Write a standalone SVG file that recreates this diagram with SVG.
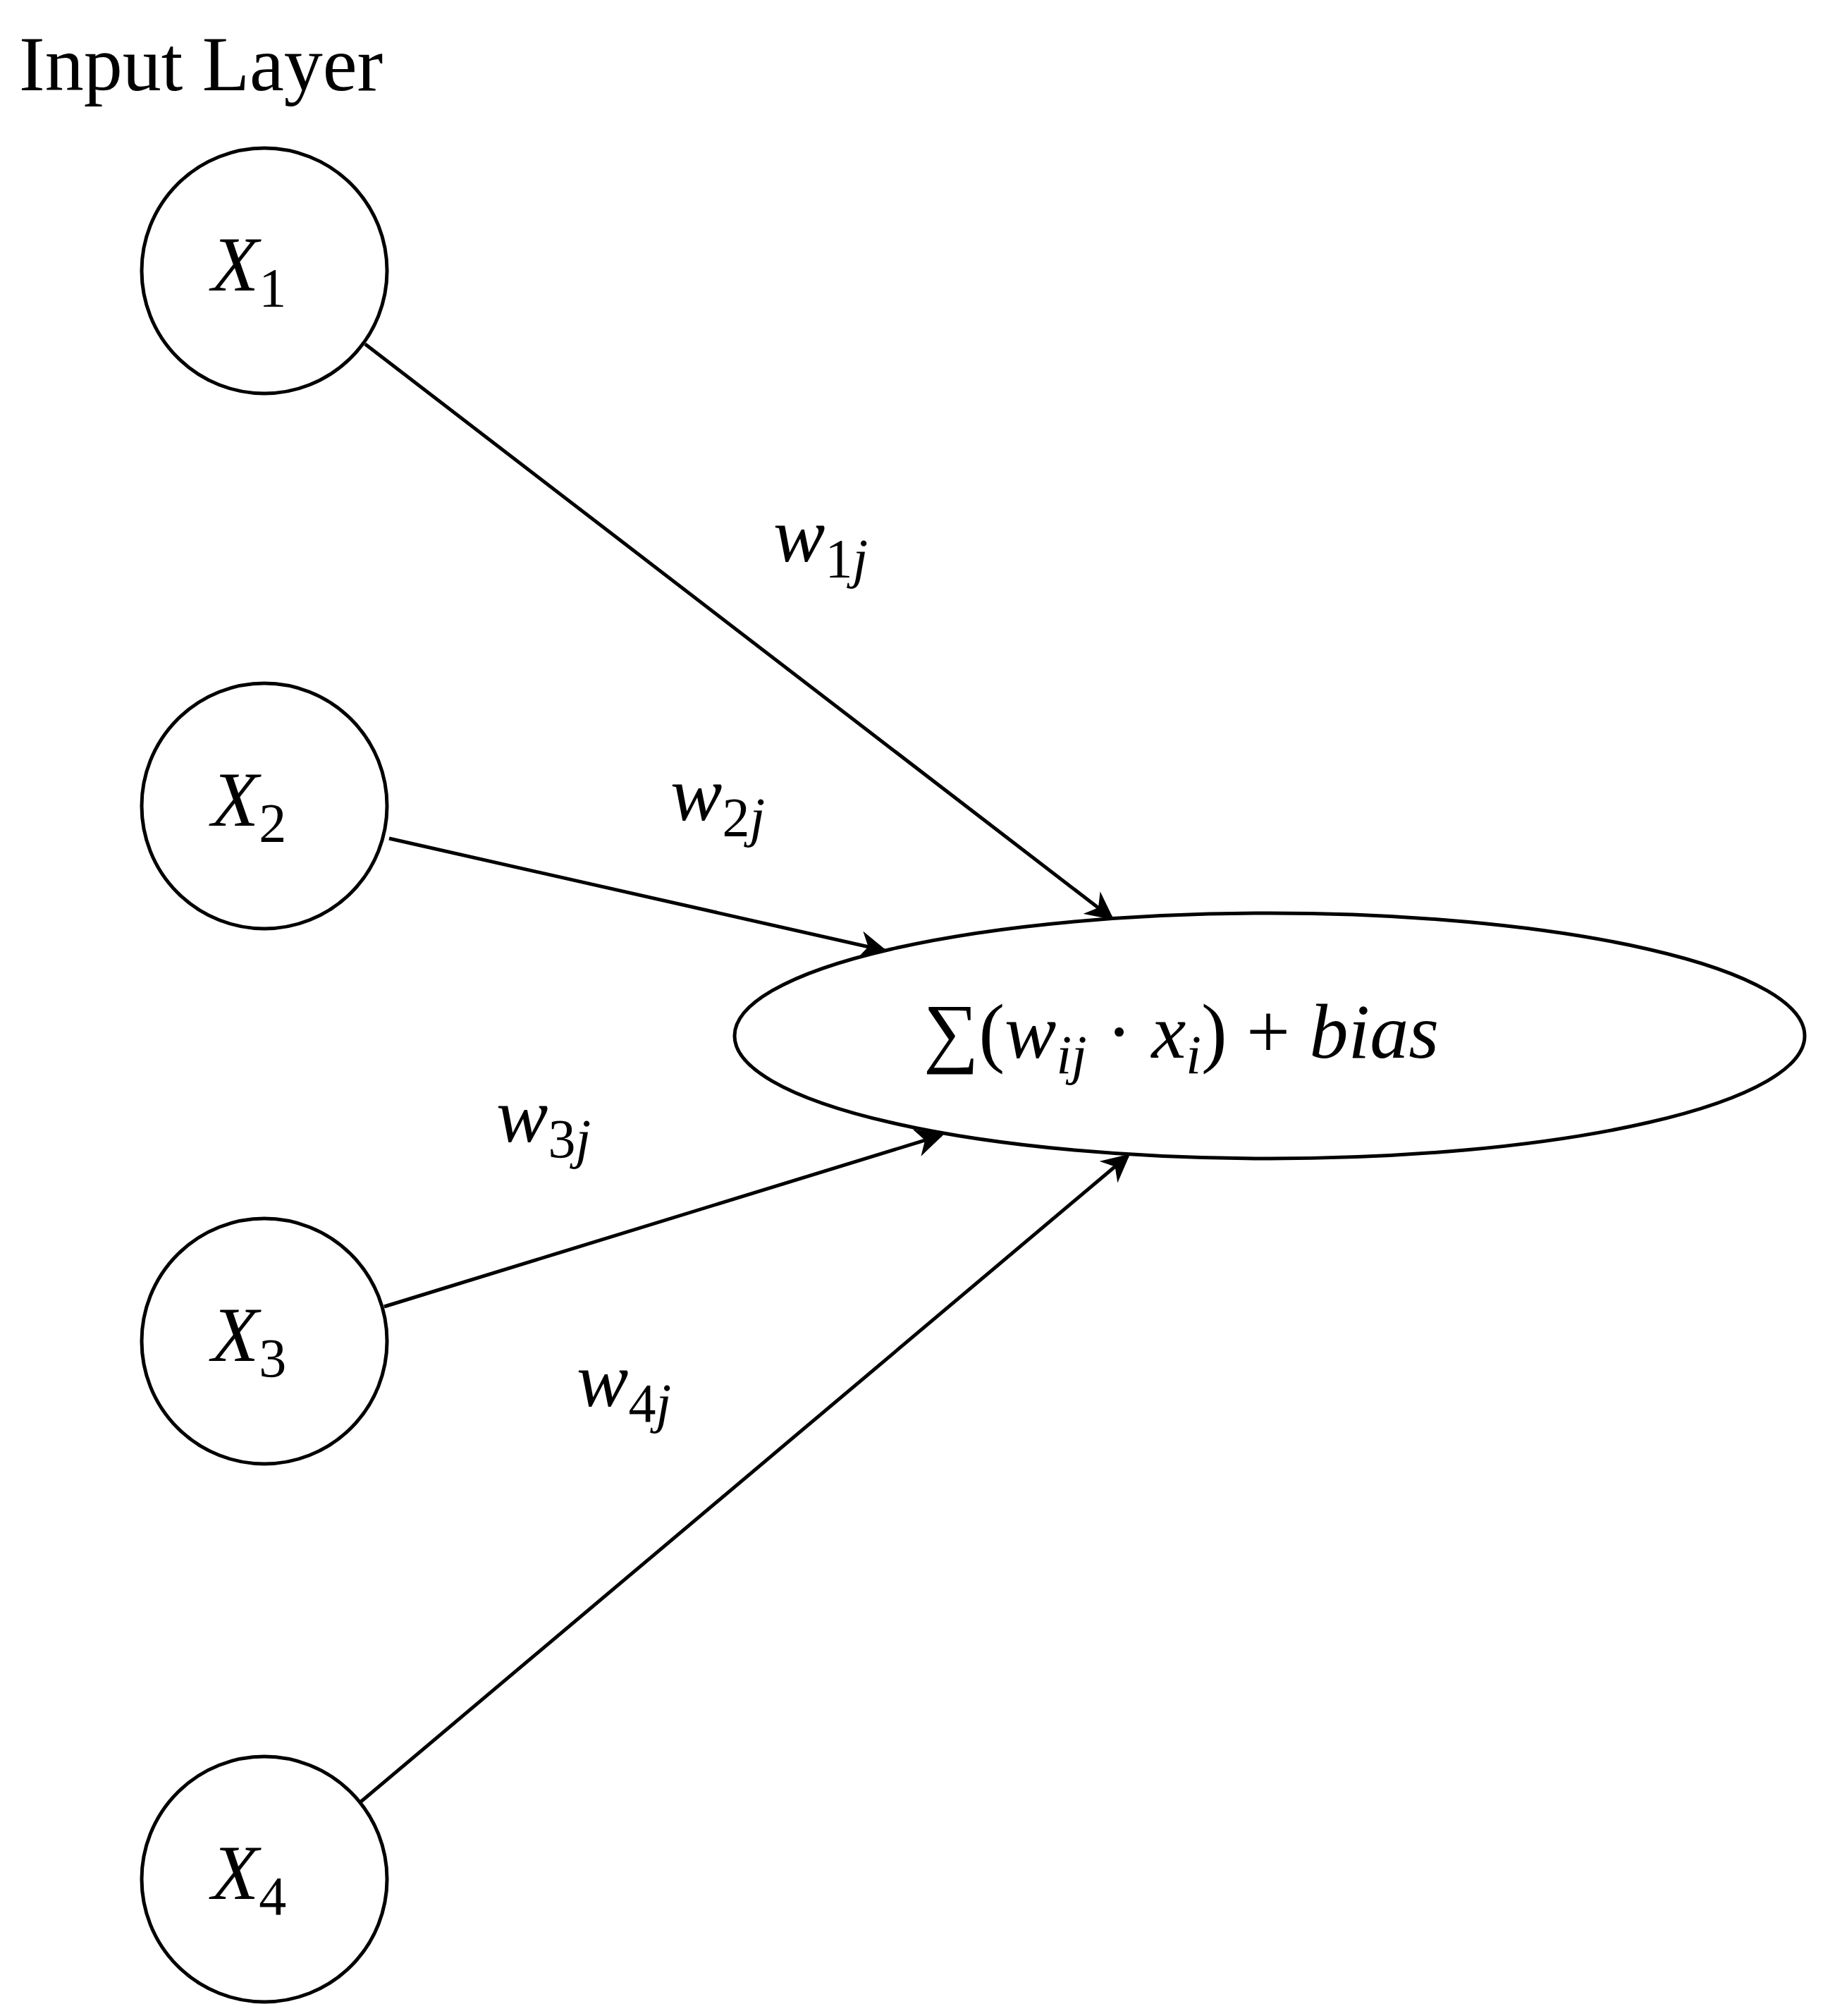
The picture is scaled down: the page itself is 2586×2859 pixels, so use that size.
<svg xmlns="http://www.w3.org/2000/svg" width="2586" height="2859" viewBox="0 0 2586 2859">
<style>
.n{fill:#fff;stroke:#000;stroke-width:5}
.t{font-family:"Liberation Serif",serif;font-size:110px;fill:#000}
.i{font-style:italic}
.s{font-size:78px}
.c line{stroke:#000;stroke-width:5;marker-end:url(#a)}
</style>
<defs><marker id="a" viewBox="0 0 10 10" refX="9" refY="5" markerWidth="8" markerHeight="8" markerUnits="strokeWidth" orient="auto"><path d="M0,0 L10,5 L0,10 L3,5 Z" fill="#000"/></marker></defs>
<rect width="2586" height="2859" fill="#fff"/>
<text class="t" x="27" y="128" font-size="100">Input Layer</text>
<g class="c">
<line x1="518" y1="488" x2="1577" y2="1302"/>
<line x1="552" y1="1189" x2="1255" y2="1348"/>
<line x1="545" y1="1853" x2="1335" y2="1610"/>
<line x1="512" y1="2555" x2="1600" y2="1639"/>
</g>
<g id="x1"><circle class="n" cx="375" cy="384" r="174"/><text class="t" x="300" y="412"><tspan class="i">X</tspan><tspan class="s" dy="22">1</tspan></text></g>
<g id="x2"><circle class="n" cx="375" cy="1143" r="174"/><text class="t" x="300" y="1171"><tspan class="i">X</tspan><tspan class="s" dy="22">2</tspan></text></g>
<g id="x3"><circle class="n" cx="375" cy="1902" r="174"/><text class="t" x="300" y="1930"><tspan class="i">X</tspan><tspan class="s" dy="22">3</tspan></text></g>
<g id="x4"><circle class="n" cx="375" cy="2665" r="174"/><text class="t" x="300" y="2693"><tspan class="i">X</tspan><tspan class="s" dy="22">4</tspan></text></g>
<g id="sum"><ellipse class="n" cx="1801" cy="1469" rx="759" ry="174"/>
<text class="t" x="1310" y="1500">∑(<tspan class="i">w</tspan><tspan class="s i" dy="22">ij</tspan><tspan dy="-22"> · </tspan><tspan class="i">x</tspan><tspan class="s i" dy="22">i</tspan><tspan dy="-22">) + </tspan><tspan class="i">bias</tspan></text></g>
<g id="labels">
<text class="t" x="1097" y="796"><tspan class="i">w</tspan><tspan class="s" dy="22">1</tspan><tspan class="s i">j</tspan></text>
<text class="t" x="951" y="1163"><tspan class="i">w</tspan><tspan class="s" dy="22">2</tspan><tspan class="s i">j</tspan></text>
<text class="t" x="704" y="1619"><tspan class="i">w</tspan><tspan class="s" dy="22">3</tspan><tspan class="s i">j</tspan></text>
<text class="t" x="818" y="1994"><tspan class="i">w</tspan><tspan class="s" dy="22">4</tspan><tspan class="s i">j</tspan></text>
</g>
</svg>
